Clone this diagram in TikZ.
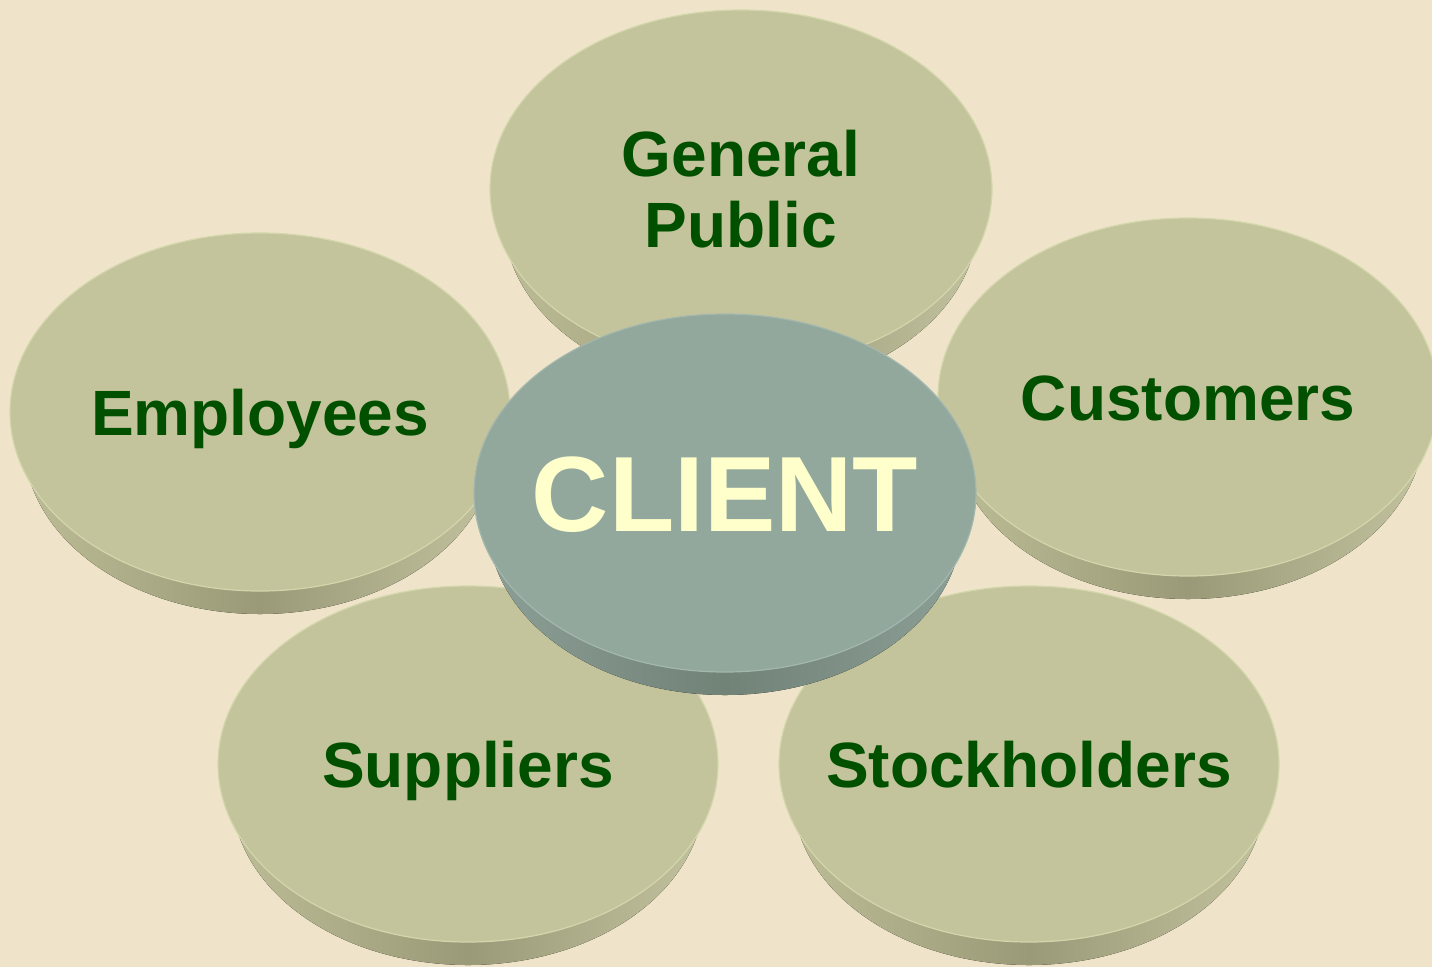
\documentclass[tikz,border=0pt]{standalone}
\usepackage{fontspec}
\setmainfont{Liberation Sans}
\usetikzlibrary{shapes.geometric}
\definecolor{bg}{HTML}{EFE4C9}
\definecolor{oface}{HTML}{C4C49C}
\definecolor{orim}{HTML}{D3D6AB}
\definecolor{oedge}{HTML}{BCBC96}
\definecolor{omid}{HTML}{9A9A78}
\definecolor{cface}{HTML}{93A89D}
\definecolor{crim}{HTML}{A3B7AD}
\definecolor{cedge}{HTML}{8C9F96}
\definecolor{cmid}{HTML}{718277}
\definecolor{tgreen}{HTML}{005000}
\definecolor{tcream}{HTML}{FFFFCC}
\begin{document}
\begin{tikzpicture}[x=1pt,y=-1pt,
  oface/.style={ellipse, inner sep=0pt, fill=oface, draw=orim, line width=1.2pt,
    minimum width=500pt, minimum height=358pt,
    text=tgreen, font=\bfseries\fontsize{64}{71}\selectfont,
    text height=46pt, text depth=0pt},
  cface/.style={ellipse, inner sep=0pt, fill=cface, draw=crim, line width=1.2pt,
    minimum width=502pt, minimum height=358pt,
    text=tcream, font=\bfseries\fontsize{107}{120}\selectfont,
    text height=77pt, text depth=0pt},
  oband/.style={left color=oedge, right color=oedge!92!white, middle color=omid},
  cband/.style={left color=cedge, right color=cedge, middle color=cmid}]
\useasboundingbox (0,0) rectangle (1432,967);
\fill[bg] (0,0) rectangle (1432,967);
% General Public
\fill[oband] (741,219) ellipse [x radius=237, y radius=172];
\node[oface, minimum width=502pt, text height=117pt] (gp) at (741,189)
  {\makebox[0pt]{\begin{tabular}[b]{@{}c@{}}General\\Public\end{tabular}}};
% Employees
\fill[oband] (260,442) ellipse [x radius=236, y radius=172];
\node[oface] (emp) at (260,412) {\makebox[0pt]{Employees}};
% Customers
\fill[oband] (1188,427) ellipse [x radius=236, y radius=172];
\node[oface] (cust) at (1188,397) {\makebox[0pt]{Customers}};
% Suppliers
\fill[oband] (468,794) ellipse [x radius=236, y radius=171];
\node[oface, minimum height=356pt] (sup) at (468,764) {\makebox[0pt]{Suppliers}};
% Stockholders
\fill[oband] (1029,794) ellipse [x radius=236, y radius=171];
\node[oface, minimum height=356pt] (stk) at (1029,764) {\makebox[0pt]{Stockholders}};
% Client
\fill[cband] (725,523) ellipse [x radius=237, y radius=172];
\node[cface] (client) at (725,493) {\makebox[0pt]{CLIENT}};
\end{tikzpicture}
\end{document}
